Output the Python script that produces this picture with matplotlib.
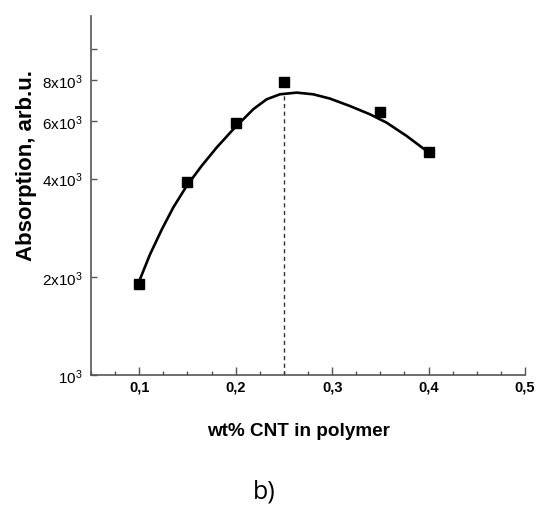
import numpy as np
import matplotlib
matplotlib.use('Agg')
import matplotlib.pyplot as plt
from matplotlib.ticker import FixedLocator, MultipleLocator, NullLocator

# Puntos medidos
wt = [0.10, 0.15, 0.20, 0.25, 0.35, 0.40]
absorcion = [1900, 3910, 5940, 7910, 6420, 4810]

# Curva de ajuste
curva_x = [0.1008, 0.1111, 0.1233, 0.1353, 0.1492, 0.1647, 0.1803, 0.1975,
           0.2148, 0.2182, 0.2321, 0.2459, 0.2632, 0.2804, 0.2977, 0.3184,
           0.3391, 0.3564, 0.3772, 0.3979]
curva_y = [1967, 2340, 2790, 3263, 3798, 4375, 4981, 5665,
           6374, 6525, 7000, 7251, 7338, 7251, 7035, 6676,
           6298, 5938, 5404, 4863]

# Posicion del maximo
x_max = 0.25
y_max = 7260

y_ticks = [1000, 2000, 4000, 6000, 8000, 10000]
y_labels = ['10$^3$', '2x10$^3$', '4x10$^3$', '6x10$^3$', '8x10$^3$', '']
x_ticks = [0.1, 0.2, 0.3, 0.4, 0.5]
x_labels = ['0,1', '0,2', '0,3', '0,4', '0,5']

plt.rcParams['font.family'] = ['Liberation Sans', 'DejaVu Sans']
plt.rcParams['mathtext.fontset'] = 'custom'
plt.rcParams['mathtext.rm'] = 'Liberation Sans'
plt.rcParams['mathtext.default'] = 'rm'

fig = plt.figure(figsize=(5.37, 5.06), dpi=100)
ax = fig.add_axes([0.1695, 0.2569, 0.8082, 0.7095])

ax.plot(curva_x, curva_y, '-', color='black', lw=1.9, zorder=3,
        solid_joinstyle='round', solid_capstyle='round')
ax.plot(wt, absorcion, 's', color='black', ms=7, zorder=4)
ax.plot([x_max, x_max], [1000, y_max], '--', color='#333333', lw=1.0, dashes=(3, 2.5))

ax.set_yscale('log')
ax.set_xlim(0.05, 0.5)
ax.set_ylim(1000, 12600)

ax.yaxis.set_major_locator(FixedLocator(y_ticks))
ax.yaxis.set_minor_locator(NullLocator())
ax.set_yticklabels(y_labels)
ax.set_xticks(x_ticks)
ax.set_xticklabels(x_labels)
ax.xaxis.set_minor_locator(MultipleLocator(0.025))

for s in ['top', 'right']:
    ax.spines[s].set_visible(False)
for s in ['left', 'bottom']:
    ax.spines[s].set_color('#555555')
    ax.spines[s].set_linewidth(1.2)

ax.tick_params(axis='x', which='major', direction='in', length=6, width=1, color='#555555',
               pad=3, labelsize=10.5)
ax.tick_params(axis='x', which='minor', direction='in', length=3, width=1, color='#555555')
ax.tick_params(axis='y', which='major', direction='in', length=4, width=1, color='#555555',
               pad=6, labelsize=11)
for lab in ax.get_xticklabels():
    lab.set_fontweight('bold')

ax.set_ylabel('Absorption, arb.u.', fontsize=16, fontweight='bold')
ax.yaxis.set_label_coords(-0.125, 0.585)
ax.set_xlabel('wt% CNT in polymer', fontsize=13.6, fontweight='bold')
ax.xaxis.set_label_coords(0.477, -0.131)

fig.text(0.493, 0.028, 'b)', fontsize=18, family=['Open Sans', 'DejaVu Sans'],
         ha='center', va='center')

fig.savefig('out.png', dpi=100)
